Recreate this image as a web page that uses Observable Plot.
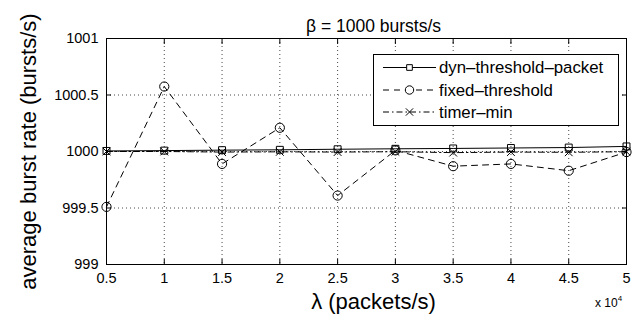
<!DOCTYPE html>
<html>
<head>
<meta charset="utf-8">
<script src="https://cdn.jsdelivr.net/npm/d3@7"></script>
<script src="https://cdn.jsdelivr.net/npm/@observablehq/plot@0.6"></script>
<style>
  body { margin: 0; background: #fff; }
  #chart { width: 638px; height: 331px; }
</style>
</head>
<body>
<div id="chart"></div>
<script>
// Offered load λ (packets/s)
const lambda = [5000, 10000, 15000, 20000, 25000, 30000, 35000, 40000, 45000, 50000];

// Average burst rate (bursts/s) per scheme
const dynThresholdPacket = [1000.005, 1000.008, 1000.012, 1000.015, 1000.02, 1000.024, 1000.027, 1000.031, 1000.035, 1000.045];
const fixedThreshold     = [999.51, 1000.575, 999.89, 1000.21, 999.61, 1000.01, 999.87, 999.89, 999.83, 999.995];
const timerMin           = [1000.0, 1000.0, 999.995, 999.997, 999.995, 999.998, 999.99, 999.995, 999.993, 999.998];

const seriesNames = ["dyn–threshold–packet", "fixed–threshold", "timer–min"];
const xTicks = [5000, 10000, 15000, 20000, 25000, 30000, 35000, 40000, 45000, 50000];
const yTicks = [999, 999.5, 1000, 1000.5, 1001];

const titleText = "β = 1000 bursts/s";
const xLabel = "λ (packets/s)";
const yLabel = "average burst rate (bursts/s)";

// Line and marker style for each scheme
const styles = {
  [seriesNames[0]]: {dash: null, symbol: "square", r: 3.9, legendR: 3.2},
  [seriesNames[1]]: {dash: "6,5", symbol: "circle", r: 4.6, legendR: 4.2},
  [seriesNames[2]]: {dash: "6,3,1.5,3", symbol: "times", r: 3.6, legendR: 3.4}
};

const seriesValues = [dynThresholdPacket, fixedThreshold, timerMin];
const rows = seriesNames.map((name, s) =>
  lambda.map((x, i) => ({series: name, lambda: x, rate: seriesValues[s][i]}))
);

const font = "'Liberation Sans', Arial, Helvetica, sans-serif";

const seriesMarks = rows.flatMap(data => {
  const st = styles[data[0].series];
  return [
    Plot.line(data, {x: "lambda", y: "rate", stroke: "#000", strokeWidth: 1, strokeDasharray: st.dash}),
    Plot.dot(data, {x: "lambda", y: "rate", symbol: () => st.symbol, r: st.r, stroke: "#000", strokeWidth: 1, fill: "none"})
  ];
});

const plot = Plot.plot({
  width: 638,
  height: 331,
  marginLeft: 106,
  marginRight: 12,
  marginTop: 38,
  marginBottom: 67,
  style: {fontFamily: font, fontSize: "14.5px", color: "#000", background: "#fff", overflow: "visible"},
  x: {domain: [5000, 50000]},
  y: {domain: [999, 1001]},
  symbol: {type: "identity"},
  marks: [
    Plot.gridX(xTicks, {stroke: "#000", strokeOpacity: 0.8, strokeWidth: 0.9, strokeDasharray: "1,3"}),
    Plot.gridY(yTicks, {stroke: "#000", strokeOpacity: 0.8, strokeWidth: 0.9, strokeDasharray: "1,3"}),
    // inward ticks on all four sides
    Plot.axisX(xTicks, {anchor: "bottom", tickSize: -5, fill: "none", label: null}),
    Plot.axisX(xTicks, {anchor: "top", tickSize: -5, fill: "none", label: null}),
    Plot.axisY(yTicks, {anchor: "left", tickSize: -5, fill: "none", label: null}),
    Plot.axisY(yTicks, {anchor: "right", tickSize: -5, fill: "none", label: null}),
    // tick labels
    Plot.axisX(xTicks, {anchor: "bottom", tickSize: 0, tickPadding: 8, tickFormat: d => String(d / 1e4), fontSize: 14.5, label: null}),
    Plot.axisY(yTicks, {anchor: "left", tickSize: 0, tickPadding: 8, tickFormat: d => String(d), fontSize: 14.5, label: null}),
    ...seriesMarks,
    Plot.frame({stroke: "#000", strokeWidth: 1}),
    Plot.text([titleText], {frameAnchor: "top", dx: 7, dy: -18.5, fontSize: 17.5}),
    Plot.text([xLabel], {frameAnchor: "bottom", dx: 7, dy: 44, fontSize: 22}),
    Plot.text([yLabel], {frameAnchor: "left", textAnchor: "middle", dx: -78, dy: 0, rotate: -90, fontSize: 22})
  ]
});

document.getElementById("chart").appendChild(plot);

const svg = d3.select(plot);

// exponent note for the x tick labels
const expo = svg.append("text")
  .attr("font-family", font)
  .attr("font-size", 12)
  .attr("text-anchor", "start")
  .attr("x", 595)
  .attr("y", 306.5);
expo.append("tspan").text("x 10");
expo.append("tspan").attr("font-size", 8).attr("dy", -6).text("4");

// legend box
const legend = svg.append("g")
  .attr("font-family", font)
  .attr("font-size", 16.8)
  .attr("text-anchor", "start");
legend.append("rect")
  .attr("x", 373.5).attr("y", 54.5).attr("width", 245).attr("height", 71)
  .attr("fill", "#fff").attr("stroke", "#000").attr("stroke-width", 1);

const rowY = [67.5, 90, 112];
seriesNames.forEach((name, i) => {
  const st = styles[name];
  const y = rowY[i];
  legend.append("line")
    .attr("x1", 383).attr("x2", 436).attr("y1", y).attr("y2", y)
    .attr("stroke", "#000").attr("stroke-width", 1)
    .attr("stroke-dasharray", st.dash);
  const symType = {square: d3.symbolSquare, circle: d3.symbolCircle, times: d3.symbolTimes}[st.symbol];
  legend.append("path")
    .attr("transform", `translate(409.5,${y})`)
    .attr("d", d3.symbol(symType, Math.PI * st.legendR * st.legendR)())
    .attr("fill", st.symbol === "times" ? "none" : "#fff")
    .attr("stroke", "#000").attr("stroke-width", 1);
  legend.append("text")
    .attr("x", 439).attr("y", y).attr("dy", "0.35em")
    .text(name);
});
</script>
</body>
</html>
